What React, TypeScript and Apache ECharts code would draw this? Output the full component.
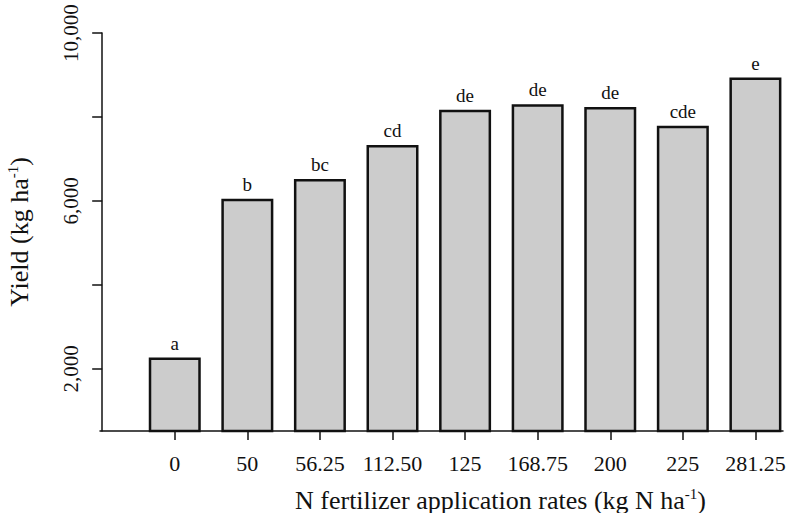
import React, { useEffect, useRef } from "react";
import * as echarts from "echarts";

const categories = ["0", "50", "56.25", "112.50", "125", "168.75", "200", "225", "281.25"];
const yields = [2270, 6050, 6520, 7330, 8170, 8300, 8240, 7790, 8940];
const letters = ["a", "b", "bc", "cd", "de", "de", "de", "cde", "e"];
const yLabelValues = [2000, 6000, 10000];
const yTickValues = [2000, 4000, 6000, 8000, 10000];
const positions = categories.map((_, i) => i + 1);

const FONT = "'Liberation Serif', 'Times New Roman', serif";

export default function App() {
  const ref = useRef<HTMLDivElement>(null);
  useEffect(() => {
    if (!ref.current) return;
    const chart = echarts.init(ref.current, null, { renderer: "svg" });
    const data = yields.map((v, i) => [positions[i], v]);
    chart.setOption({
      animation: false,
      backgroundColor: "#ffffff",
      textStyle: { fontFamily: FONT, color: "#111" },
      grid: { left: 100, right: 3, top: 33, bottom: 82, containLabel: false, outerBoundsMode: "none" },
      xAxis: {
        type: "value",
        min: -0.03,
        max: 9.38,
        splitLine: { show: false },
        axisLine: { show: true, onZero: false, lineStyle: { color: "#111", width: 1.5 } },
        axisTick: { show: true, customValues: positions, length: 9, lineStyle: { color: "#111", width: 1.5 } },
        axisLabel: {
          customValues: positions,
          formatter: (v: number) => categories[Math.round(v) - 1] ?? "",
          fontFamily: FONT,
          fontSize: 22,
          color: "#111",
          margin: 21,
        },
        name: "N fertilizer application rates (kg N ha{sup|-1})",
        nameLocation: "middle",
        nameGap: 55,
        nameTextStyle: {
          fontFamily: FONT,
          fontSize: 26,
          color: "#111",
          padding: [0, 0, 0, 118],
          rich: { sup: { fontFamily: FONT, fontSize: 15, color: "#111", padding: [0, 0, 13, 0] } },
        },
      },
      yAxis: {
        type: "value",
        min: 520,
        max: 10000,
        splitLine: { show: false },
        axisLine: { show: true, lineStyle: { color: "#111", width: 1.5 } },
        axisTick: { show: true, customValues: yTickValues, length: 10, lineStyle: { color: "#111", width: 1.5 } },
        axisLabel: {
          customValues: yLabelValues,
          formatter: (v: number) => v.toLocaleString("en-US"),
          rotate: 90,
          fontFamily: FONT,
          fontSize: 21,
          color: "#111",
          margin: 19,
        },
        name: "Yield (kg ha{sup|-1})",
        nameLocation: "middle",
        nameGap: 67,
        nameRotate: 90,
        nameTextStyle: {
          fontFamily: FONT,
          fontSize: 26,
          color: "#111",
          rich: { sup: { fontFamily: FONT, fontSize: 15, color: "#111", padding: [0, 0, 13, 0] } },
        },
      },
      series: [
        {
          type: "bar",
          data,
          barWidth: 52,
          itemStyle: { color: "#cccccc", borderColor: "#111", borderWidth: 2.5 },
          label: {
            show: true,
            position: "top",
            distance: 5,
            formatter: (p: any) => letters[p.dataIndex],
            fontFamily: FONT,
            fontSize: 19,
            color: "#111",
          },
        },
      ],
    });
    return () => chart.dispose();
  }, []);
  return (
    <div
      ref={ref}
      style={{ position: "fixed", left: 0, top: 0, width: 786, height: 513, background: "#fff" }}
    />
  );
}
